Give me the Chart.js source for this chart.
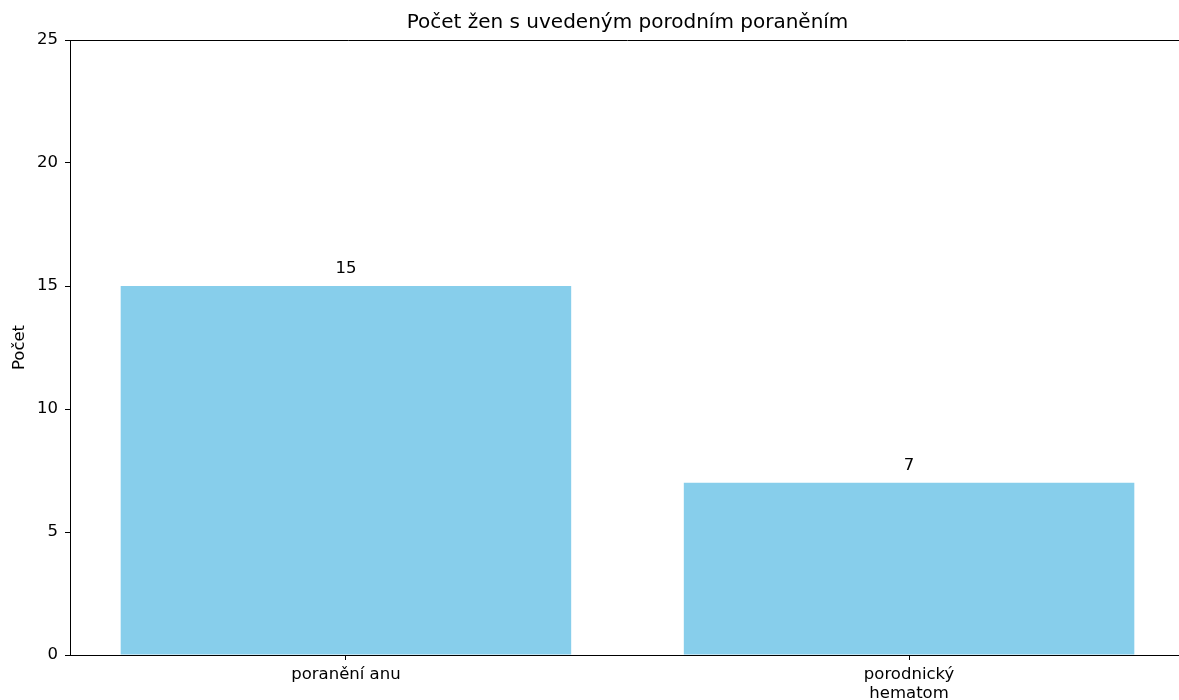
<!DOCTYPE html>
<html>
<head>
<meta charset="utf-8">
<script src="https://cdn.jsdelivr.net/npm/chart.js@4.4.1/dist/chart.umd.min.js"></script>
<style>
  html, body { margin: 0; padding: 0; overflow: hidden; background: #fff; }
  #bar-chart { position: absolute; left: 0; top: 0; }
</style>
</head>
<body>
<canvas id="bar-chart" width="1186" height="700"></canvas>
<script>
// data
const categories = ['poranění anu', 'porodnický\nhematom'];
const counts = [15, 7];
const yTicks = [0, 5, 10, 15, 20, 25];

const FONT = 'DejaVu Sans';
const SMALL = 16.5;

// top spine like matplotlib (right one falls outside the picture)
const framePlugin = {
    id: 'frame',
    afterDraw(chart) {
        const a = chart.chartArea, ctx = chart.ctx;
        ctx.save();
        ctx.strokeStyle = '#000';
        ctx.lineWidth = 1;
        ctx.beginPath();
        ctx.moveTo(a.left, a.top + 0.5);
        ctx.lineTo(a.right, a.top + 0.5);
        ctx.stroke();
        ctx.restore();
    }
};

// numbers above the bars
const valuePlugin = {
    id: 'values',
    afterDatasetsDraw(chart) {
        const ctx = chart.ctx;
        const meta = chart.getDatasetMeta(0);
        ctx.save();
        ctx.font = SMALL + 'px "' + FONT + '"';
        ctx.fillStyle = '#000';
        ctx.textAlign = 'center';
        ctx.textBaseline = 'alphabetic';
        meta.data.forEach((bar, i) => {
            ctx.fillText(String(counts[i]), bar.x, bar.y - 13);
        });
        ctx.restore();
    }
};

new Chart(document.getElementById('bar-chart'), {
    type: 'bar',
    data: {
        datasets: [{
            label: 'Počet',
            data: counts.map((v, i) => ({x: i, y: v})),
            backgroundColor: '#87CEEB',
            borderWidth: 0,
            barPercentage: 0.8,
            categoryPercentage: 1.0
        }]
    },
    plugins: [framePlugin, valuePlugin],
    options: {
        responsive: false,
        animation: false,
        events: [],
        layout: { padding: { left: 0, right: 1, top: 0, bottom: 0 } },
        plugins: {
            legend: { display: false },
            tooltip: { enabled: false },
            title: {
                display: true,
                fullSize: false,
                text: 'Počet žen s uvedeným porodním poraněním',
                color: '#000',
                font: { family: FONT, size: 20, weight: 'normal' },
                padding: { top: 11, bottom: 5 }
            }
        },
        scales: {
            x: {
                type: 'linear',
                offset: false,
                min: -0.49,
                max: 1.49,
                afterBuildTicks: (scale) => {
                    scale.ticks = categories.map((c, i) => ({value: i}));
                },
                afterFit: (scale) => { scale.height = 45; },
                grid: { display: true, offset: false, drawOnChartArea: false, tickLength: 5, tickColor: '#000' },
                border: { display: true, color: '#000', width: 1 },
                ticks: {
                    color: '#000',
                    padding: 5,
                    stepSize: 1,
                    includeBounds: false,
                    maxRotation: 0,
                    autoSkip: false,
                    font: { family: FONT, size: SMALL, lineHeight: 1.15 },
                    callback: (v) => {
                        const c = categories[v];
                        return c === undefined ? '' : c.split('\n');
                    }
                }
            },
            y: {
                min: 0,
                max: 25,
                afterBuildTicks: (scale) => {
                    scale.ticks = yTicks.map(v => ({value: v}));
                },
                afterFit: (scale) => { scale.width = 70; },
                grid: { display: true, drawOnChartArea: false, tickLength: 5, tickColor: '#000' },
                border: { display: true, color: '#000', width: 1 },
                ticks: {
                    color: '#000',
                    padding: 7,
                    font: { family: FONT, size: SMALL }
                },
                title: {
                    display: true,
                    text: 'Počet',
                    color: '#000',
                    font: { family: FONT, size: SMALL },
                    padding: { top: 10, bottom: 0 }
                }
            }
        }
    }
});
</script>
</body>
</html>
